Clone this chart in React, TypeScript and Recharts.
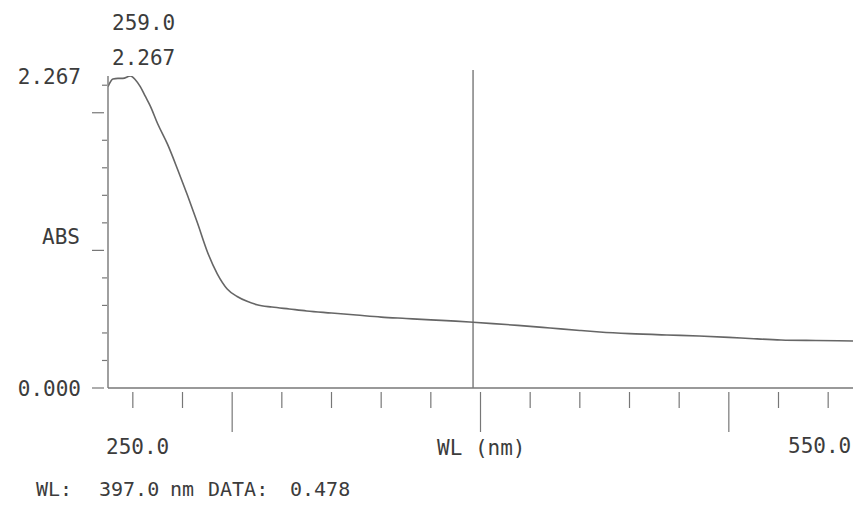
import React from 'react';
import { LineChart, Line, XAxis, YAxis, ReferenceLine } from 'recharts';

// wavelength (nm) and absorbance
const wavelengths = [
  250, 252, 254, 256, 259, 261, 263, 265, 267, 270, 274, 278, 282, 286, 290, 294, 298,
  302, 306, 310, 316, 323, 330, 340, 350, 360, 370, 380, 390, 397, 405, 415, 428, 440,
  448, 460, 475, 488, 500, 510, 521, 535, 550,
];
const absorbance = [
  2.19, 2.245, 2.25, 2.25, 2.267, 2.24, 2.19, 2.12, 2.05, 1.92, 1.77, 1.59, 1.4, 1.2, 0.99,
  0.83, 0.72, 0.665, 0.63, 0.605, 0.588, 0.574, 0.56, 0.545, 0.53, 0.515, 0.505, 0.495,
  0.486, 0.478, 0.468, 0.455, 0.436, 0.418, 0.407, 0.395, 0.385, 0.378, 0.368, 0.358,
  0.349, 0.345, 0.342,
];

const xTicks = [260, 280, 300, 320, 340, 360, 380, 400, 420, 440, 460, 480, 500, 520, 540];
const xMajor = [300, 400, 500];
const yTicks = [0, 0.2, 0.4, 0.6, 0.8, 1.0, 1.2, 1.4, 1.6, 1.8, 2.0, 2.2, 2.267];
const yMajor = [0, 1.0, 2.0];
const yLabelled = [0, 2.267];

const cursorWl = 397;
const cursorData = 0.478;
const peakWl = 259.0;
const peakAbs = 2.267;

const data = wavelengths.map((wl, i) => ({ wl, abs: absorbance[i] }));

const FONT = '"DejaVu Sans Mono", monospace';
const INK = '#3c3c3c';
const LINE = '#777';

const XTick = (props: any) => {
  const { x, y, payload } = props;
  const major = xMajor.includes(payload.value);
  return <line x1={x} x2={x} y1={y + 4} y2={y + (major ? 44 : 20)} stroke={LINE} strokeWidth={1.2} />;
};

const YTick = (props: any) => {
  const { x, y, payload } = props;
  const v = payload.value;
  const onGrid = Math.abs(v * 5 - Math.round(v * 5)) < 1e-6;
  const major = yMajor.some((m) => Math.abs(m - v) < 1e-6);
  return (
    <g>
      {onGrid && (
        <line x1={x - (major ? 16 : 6)} x2={x - (major ? 4 : 1)} y1={y} y2={y} stroke={LINE} strokeWidth={1.2} />
      )}
      {yLabelled.includes(v) && (
        <text x={x - 27} y={y} dy={7.6} textAnchor="end" fontFamily={FONT} fontSize={21} fill={INK}>
          {v.toFixed(3)}
        </text>
      )}
    </g>
  );
};

const txt = (x: number, y: number, s: string, size = 21) => (
  <text x={x} y={y} fontFamily={FONT} fontSize={size} fill={INK}>
    {s}
  </text>
);

export default function App() {
  return (
    <div style={{ position: 'absolute', left: 0, top: 0, width: 863, height: 507, background: '#fff' }}>
      <LineChart width={863} height={507} data={data} margin={{ top: 76, right: 10, bottom: 89, left: 48 }}>
        <XAxis
          type="number"
          dataKey="wl"
          domain={[250, 550]}
          ticks={xTicks}
          tick={(p: any) => <XTick {...p} />}
          tickLine={false}
          tickSize={0}
          tickMargin={0}
          height={30}
          axisLine={{ stroke: LINE, strokeWidth: 1.4 }}
          allowDataOverflow
        />
        <YAxis
          type="number"
          domain={[0, 2.267]}
          ticks={yTicks}
          tick={(p: any) => <YTick {...p} />}
          tickLine={false}
          tickSize={0}
          tickMargin={0}
          width={60}
          axisLine={{ stroke: LINE, strokeWidth: 1.4 }}
          allowDataOverflow
          interval={0}
        />
        <ReferenceLine
          segment={[
            { x: cursorWl, y: 0 },
            { x: cursorWl, y: 2.31 },
          ]}
          stroke={LINE}
          strokeWidth={1.4}
          ifOverflow="visible"
        />
        <Line
          type="monotone"
          dataKey="abs"
          stroke="#666"
          strokeWidth={1.6}
          dot={false}
          isAnimationActive={false}
        />
      </LineChart>
      <svg
        width={863}
        height={507}
        style={{ position: 'absolute', left: 0, top: 0, pointerEvents: 'none' }}
      >
        {txt(112, 30, peakWl.toFixed(1))}
        {txt(112, 65, peakAbs.toFixed(3))}
        {txt(42, 244, 'ABS')}
        {txt(106, 454, '250.0')}
        {txt(437, 455, 'WL (nm)')}
        {txt(788, 453, '550.0')}
        {txt(36, 496, 'WL:', 20)}
        {txt(99, 496, `${cursorWl.toFixed(1)}`, 20)}
        {txt(170, 496, 'nm', 20)}
        {txt(208, 496, 'DATA:', 20)}
        {txt(290, 496, `${cursorData.toFixed(3)}`, 20)}
      </svg>
    </div>
  );
}
